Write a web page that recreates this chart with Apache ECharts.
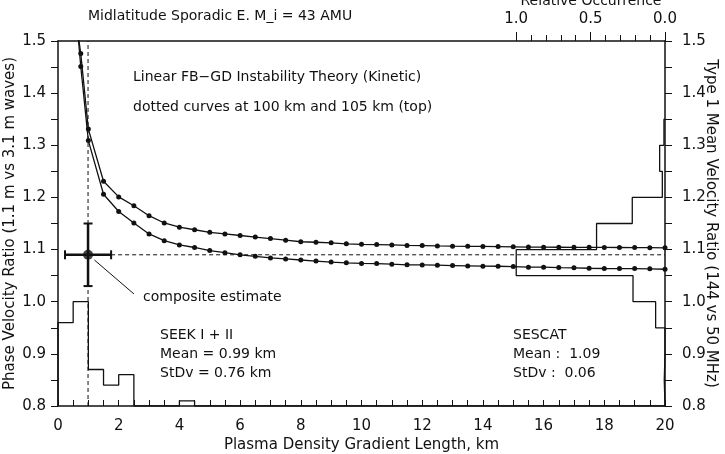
<!DOCTYPE html>
<html>
<head>
<meta charset="utf-8">
<script src="https://cdn.jsdelivr.net/npm/echarts@6/dist/echarts.min.js"></script>
<style>
html, body { margin: 0; padding: 0; background: #fff; }
#chart { width: 725px; height: 454px; }
</style>
</head>
<body>
<div id="chart"></div>
<script>
// theory curves: gradient length (km) vs phase velocity ratio
var gradLength = [0.5, 0.75, 1, 1.5, 2, 2.5, 3, 3.5, 4, 4.5, 5, 5.5, 6, 6.5, 7, 7.5, 8, 8.5, 9, 9.5,
  10, 10.5, 11, 11.5, 12, 12.5, 13, 13.5, 14, 14.5, 15, 15.5, 16, 16.5, 17, 17.5, 18, 18.5, 19, 19.5, 20];
var ratio105km = [1.58, 1.476, 1.331, 1.231, 1.201, 1.184, 1.165, 1.151, 1.143, 1.138, 1.133, 1.130, 1.127, 1.124,
  1.121, 1.118, 1.115, 1.114, 1.113, 1.111, 1.110, 1.1095, 1.109, 1.108, 1.1077, 1.107, 1.1065, 1.1063, 1.106,
  1.1057, 1.1052, 1.1047, 1.1046, 1.1045, 1.1044, 1.1043, 1.1042, 1.104, 1.1038, 1.1036, 1.1033];
var ratio100km = [1.62, 1.451, 1.309, 1.206, 1.173, 1.151, 1.130, 1.117, 1.109, 1.104, 1.098, 1.094, 1.090, 1.087,
  1.084, 1.082, 1.080, 1.078, 1.076, 1.0746, 1.0735, 1.0732, 1.0719, 1.0708, 1.0705, 1.070, 1.0694, 1.0687, 1.0681,
  1.068, 1.0674, 1.0663, 1.0662, 1.0655, 1.0649, 1.0642, 1.0637, 1.0636, 1.0635, 1.063, 1.0623];

// SEEK gradient length histogram (bins of 0.5 km, plotted on the 0.8 baseline)
var seekBinStart = [0, 0.5, 1.0, 1.5, 2.0, 2.5, 4.0, 4.5];
var seekBinValue = [0.96, 1.0, 0.87, 0.84, 0.86, 0.8, 0.81, 0.8];
var seekBinEnd = 20;

// SESCAT velocity ratio histogram (bins of 0.05, relative occurrence)
var sescatBinStart = [0.80, 0.85, 0.90, 0.95, 1.00, 1.05, 1.10, 1.15, 1.20, 1.25, 1.30];
var sescatOccurrence = [0.005, 0, 0, 0.063, 0.215, 1.0, 0.46, 0.22, 0.018, 0.036, 0.007];
var sescatBinWidth = 0.05;

// composite estimate
var compLength = 0.99, compLengthSd = 0.76;
var compRatio = 1.09, compRatioSd = 0.06;
var leaderLine = [[1.2, 1.08], [2.5, 1.015]];

var FONT = 'DejaVu Sans';
var INK = '#111';

function pairs(xs, ys) {
  var out = [];
  for (var i = 0; i < xs.length; i++) out.push([xs[i], ys[i]]);
  return out;
}

function seekSteps() {
  var pts = [[0, 0.8]];
  for (var i = 0; i < seekBinStart.length; i++) {
    pts.push([seekBinStart[i], seekBinValue[i]]);
    var next = i + 1 < seekBinStart.length ? seekBinStart[i + 1] : seekBinEnd;
    pts.push([next, seekBinValue[i]]);
  }
  return pts;
}

function sescatSteps() {
  var pts = [[0, sescatBinStart[0]]];
  for (var i = 0; i < sescatBinStart.length; i++) {
    pts.push([sescatOccurrence[i], sescatBinStart[i]]);
    pts.push([sescatOccurrence[i], sescatBinStart[i] + sescatBinWidth]);
  }
  pts.push([0, sescatBinStart[sescatBinStart.length - 1] + sescatBinWidth]);
  return pts;
}

var tenths = [];
for (var t = 0; t <= 10; t++) tenths.push(t / 10);

var axisText = { color: INK, fontFamily: FONT, fontSize: 15 };
var blackLine = { lineStyle: { color: INK, width: 1.5 } };

function label(text, x, y, extra) {
  var s = { text: text, fill: INK, font: '14px "' + FONT + '"', verticalAlign: 'middle', align: 'left' };
  for (var k in extra) s[k] = extra[k];
  return { type: 'text', x: x, y: y, style: s };
}

echarts.init(document.getElementById('chart')).setOption({
  animation: false,
  grid: { left: 58, right: 60, top: 41, bottom: 48, outerBoundsMode: 'none', containLabel: false },
  xAxis: [
    {
      type: 'value', position: 'bottom', min: 0, max: 20, interval: 2,
      name: 'Plasma Density Gradient Length, km', nameLocation: 'middle', nameGap: 32, nameMoveOverlap: false,
      nameTextStyle: { color: INK, fontFamily: FONT, fontSize: 15 },
      axisLine: blackLine,
      axisTick: { inside: true, length: 6, lineStyle: { color: INK } },
      minorTick: { show: true, splitNumber: 4, length: 6, lineStyle: { color: INK } },
      axisLabel: Object.assign({ margin: 13 }, axisText),
      splitLine: { show: false }
    },
    {
      type: 'value', position: 'top', inverse: true, min: 0, max: 4.08,
      axisLine: blackLine,
      axisTick: { length: 9, customValues: [0, 0.5, 1], lineStyle: { color: INK } },
      axisLabel: Object.assign({ margin: 14, customValues: [0, 0.5, 1], formatter: function (v) { return v.toFixed(1); } }, axisText),
      splitLine: { show: false }
    },
    {
      type: 'value', position: 'top', inverse: true, min: 0, max: 4.08,
      axisLine: { show: false },
      axisTick: { length: 6, customValues: tenths, lineStyle: { color: INK } },
      axisLabel: { show: false },
      splitLine: { show: false }
    }
  ],
  yAxis: [
    {
      type: 'value', position: 'left', min: 0.8, max: 1.5, interval: 0.1,
      name: 'Phase Velocity Ratio (1.1 m vs 3.1 m waves)', nameLocation: 'middle', nameGap: 40, nameMoveOverlap: false,
      nameTextStyle: { color: INK, fontFamily: FONT, fontSize: 15 },
      axisLine: blackLine,
      axisTick: { length: 7, lineStyle: { color: INK } },
      minorTick: { show: true, splitNumber: 2, length: 7, lineStyle: { color: INK } },
      axisLabel: Object.assign({ margin: 12, formatter: function (v) { return v.toFixed(1); } }, axisText),
      splitLine: { show: false }
    },
    {
      type: 'value', position: 'right', min: 0.8, max: 1.5, interval: 0.1,
      name: 'Type 1 Mean Velocity Ratio (144 vs 50 MHz)', nameLocation: 'middle', nameGap: 38, nameRotate: -90,
      nameMoveOverlap: false,
      nameTextStyle: { color: INK, fontFamily: FONT, fontSize: 15 },
      axisLine: blackLine,
      axisTick: { length: 7, lineStyle: { color: INK } },
      minorTick: { show: true, splitNumber: 2, length: 7, lineStyle: { color: INK } },
      axisLabel: Object.assign({ margin: 17, formatter: function (v) { return v.toFixed(1); } }, axisText),
      splitLine: { show: false }
    }
  ],
  graphic: [
    label('Midlatitude Sporadic E. M_i = 43 AMU', 88, 16),
    label('Relative Occurrence', 591, 1, { align: 'center' }),
    label('Linear FB\u2212GD Instability Theory (Kinetic)', 133, 77),
    label('dotted curves at 100 km and 105 km (top)', 133, 107),
    label('composite estimate', 143, 297),
    label('SEEK I + II', 160, 335),
    label('Mean = 0.99 km', 160, 354),
    label('StDv = 0.76 km', 160, 373),
    label('SESCAT', 513, 335),
    label('Mean :  1.09', 513, 354),
    label('StDv :  0.06', 513, 373)
  ],
  series: [
    {
      type: 'line', name: 'SEEK histogram', data: seekSteps(), symbol: 'none',
      lineStyle: { color: INK, width: 1.3 }, z: 2
    },
    {
      type: 'line', name: 'SESCAT histogram', xAxisIndex: 1, data: sescatSteps(), symbol: 'none',
      lineStyle: { color: INK, width: 1.3 }, z: 2
    },
    {
      type: 'line', name: 'mean length', data: [[compLength, 0.8], [compLength, 1.5]], symbol: 'none',
      lineStyle: { color: INK, width: 1, type: [4, 3] }, z: 3
    },
    {
      type: 'line', name: 'mean ratio', data: [[compLength + compLengthSd, compRatio], [20, compRatio]], symbol: 'none',
      lineStyle: { color: INK, width: 1, type: [4, 3] }, z: 3
    },
    {
      type: 'line', name: '105 km', data: pairs(gradLength, ratio105km), clip: true,
      symbol: 'circle', symbolSize: 5, showAllSymbol: true,
      itemStyle: { color: INK }, lineStyle: { color: INK, width: 1.3 }, z: 4
    },
    {
      type: 'line', name: '100 km', data: pairs(gradLength, ratio100km), clip: true,
      symbol: 'circle', symbolSize: 5, showAllSymbol: true,
      itemStyle: { color: INK }, lineStyle: { color: INK, width: 1.3 }, z: 4
    },
    {
      type: 'line', name: 'length error', data: [[compLength - compLengthSd, compRatio], [compLength + compLengthSd, compRatio]],
      symbol: 'rect', symbolSize: [2, 9], itemStyle: { color: INK },
      lineStyle: { color: INK, width: 2.5 }, z: 5
    },
    {
      type: 'line', name: 'ratio error', data: [[compLength, compRatio - compRatioSd], [compLength, compRatio + compRatioSd]],
      symbol: 'rect', symbolSize: [9, 2], itemStyle: { color: INK },
      lineStyle: { color: INK, width: 2.5 }, z: 5
    },
    {
      type: 'scatter', name: 'composite', data: [[compLength, compRatio]],
      symbolSize: 10, itemStyle: { color: INK }, z: 6
    },
    {
      type: 'line', name: 'leader', data: leaderLine, symbol: 'none',
      lineStyle: { color: INK, width: 1 }, z: 5
    }
  ]
});
</script>
</body>
</html>
